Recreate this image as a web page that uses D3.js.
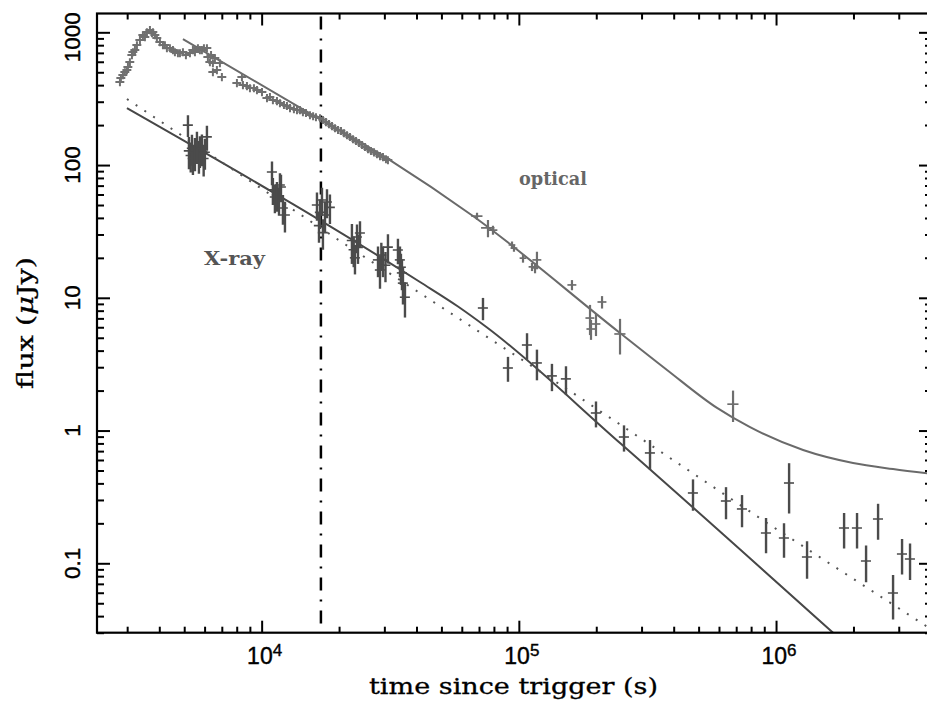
<!DOCTYPE html>
<html><head><meta charset="utf-8">
<script src="https://cdn.jsdelivr.net/npm/d3@7"></script>
<style>body{margin:0;background:#fff}svg{display:block}</style>
</head><body>
<svg id="c" width="927" height="706"></svg>
<script>
// ---------- data ----------
const xDomain = [2290, 4.04e6];
const yDomain = [0.03, 1386];
const xMajorTicks = [1e4, 1e5, 1e6];
const xTickExps = ["4", "5", "6"];
const yMajorTicks = [0.1, 1, 10, 100, 1000];
const yTickLabels = ["0.1", "1", "10", "100", "1000"];
const triggerLine = 17000;

// optical, dense early photometry [time s, flux uJy]
const optEarly = [[2812,422],[2837,452],[2888,477],[2940,502],[2994,520],[3021,548],[3074,597],[3131,675],[3159,710],[3216,736],[3274,802],[3363,876],[3454,954],[3517,922],[3580,1005],[3678,1041],[3745,988],[3778,1005],[3847,954],[3915,906],[4022,845],[4132,802],[4206,802],[4282,761],[4399,761],[4519,736],[4600,710],[4726,698],[4812,698],[4943,710],[5076,675],[5262,698],[5405,736],[5503,710],[5653,761],[5754,736],[5858,736],[5965,761],[6127,761],[6181,651],[6293,597],[6357,675],[6464,587],[6581,640],[6699,520],[6882,587],[6464,502],[7005,461],[8014,415],[8382,461],[8457,401],[8767,394],[9005,380],[9333,380],[9588,368],[10030,355],[10490,320],[10770,326],[11060,309],[11470,304],[11780,293],[12210,284],[12540,279],[12890,269],[13350,264],[13720,260],[14090,260],[14470,251],[14870,247],[15410,238],[15850,234],[16260,230],[16860,226],[17310,219],[17780,211],[18270,204],[18770,197],[19280,190],[19810,184],[20350,181],[20890,174],[21470,168],[22050,163],[22650,157],[23270,152],[23900,147],[24550,142],[25220,137],[25910,132],[26610,128],[27340,125],[28080,121],[28850,117],[29630,115],[30430,111],[30980,109]];
const optEarlyRelErrT = 0.04;
const optEarlyRelErrF = 0.07;
// optical, later photometry [time, flux, flux error, relative time error]
const optLate = [[68770,41.3,2.5,0.05],[75860,33.6,5,0.06],[79330,32.4,2.5,0.04],[94060,25.0,1.5,0.03],[95740,23.7,1.5,0.03],[103800,19.9,1.5,0.03],[112500,17.1,1.2,0.03],[115600,16.8,1.5,0.03],[117600,19.3,2.9,0.04],[160900,12.5,1.1,0.04],[189100,7.04,1.8,0.04],[190800,5.82,1.0,0.04],[199500,6.35,1.2,0.04],[210600,9.30,1.0,0.04],[247400,5.34,1.6,0.05],[680500,1.58,0.42,0.05]];
// X-ray [time, flux, flux error]
const xray = [[5170,200,37],[5216,128,35],[5300,118,30],[5358,134,35],[5405,112,28],[5503,125,35],[5603,140,38],[5704,119,33],[5754,130,35],[5858,134,36],[5950,112,30],[6018,125,33],[6127,163,35],
[10970,88.6,18],[11060,65,15],[11260,57.4,14],[11470,59.5,15],[11680,54.5,13],[11780,70.7,16],[11890,68.4,16],[12100,47.5,12],[12320,42,11],
[16410,50,12],[16710,35,9],[16860,44,11],[17160,54.5,13],[17310,31,8],[17630,42,11],[17950,52.7,13],[18430,48,12],
[22440,27,9],[22800,23,6],[23060,20,5],[23480,28.7,7],[23690,24,6],[24120,30.8,7],
[28340,19.3,5],[28850,16.2,4.5],[29200,21,5],[29630,19.3,5],[30300,17.6,4.5],[30980,24.1,6],
[33880,22.9,5],[34500,19.3,5],[34800,17,4.5],[35120,15.4,4],[35440,12.9,4],[36080,10.1,3],
[72540,8.38,1.6],[90740,2.96,0.63],[107600,4.41,1.0],[117600,3.23,0.84],[134500,2.58,0.6],[152500,2.45,0.6],[199500,1.356,0.3],[256400,0.894,0.2],[323600,0.678,0.17],[475500,0.3386,0.09],[639000,0.2946,0.08],[737500,0.2565,0.07],[914400,0.169,0.05],[1074000,0.155,0.045],[1124000,0.4026,0.165],[1320000,0.1116,0.035],[1839000,0.1845,0.055],[2065000,0.1845,0.055],[2239000,0.1041,0.032],[2493000,0.2157,0.065],[2851000,0.0597,0.022],[3090000,0.1175,0.035],[3319000,0.1077,0.033]];
const xrayRelErrT = 0.045;
// model curves [time, flux]
const optModel = [[4943,890],[14090,271],[31540,109],[66320,41.3],[247400,5.43],[376800,2.86],[589600,1.48],[792500,1.06],[1274000,0.714],[1993000,0.570],[2851000,0.513],[4043000,0.471]];
const xrayModel = [[2994,268],[41270,13.15],[58000,8.6],[75000,6.0],[247400,0.806],[1940000,0.023]];
const xrayModelDotted = [[2994,314.5],[20720,25.9],[162400,1.918],[922600,0.2012],[4043000,0.0315]];

// ---------- drawing ----------
const L = 97, R = 932, T = 13.5, B = 632.7;
const svg = d3.select('#c');
const x = d3.scaleLog().domain(xDomain).range([L, R]);
const y = d3.scaleLog().domain(yDomain).range([B, T]);

svg.append('defs').append('clipPath').attr('id','clip')
  .append('rect').attr('x',L).attr('y',T).attr('width',R-L).attr('height',B-T);
const plot = svg.append('g').attr('clip-path','url(#clip)');

const isPow = v => Math.abs(Math.log10(v) - Math.round(Math.log10(v))) < 1e-9;
const xMinor = x.ticks().filter(v => !isPow(v));
const yMinor = y.ticks().filter(v => !isPow(v));

function ticks(axisFn, scale, vals, size, tr){
  const g = svg.append('g').attr('transform', tr)
    .call(axisFn(scale).tickValues(vals).tickSize(size).tickSizeOuter(0).tickFormat(''));
  g.select('.domain').remove();
  g.selectAll('line').attr('stroke','#000').attr('stroke-width',2);
}
ticks(d3.axisBottom, x, xMajorTicks, -12, `translate(0,${B})`);
ticks(d3.axisBottom, x, xMinor, -6, `translate(0,${B})`);
ticks(d3.axisTop, x, xMajorTicks, -12, `translate(0,${T})`);
ticks(d3.axisTop, x, xMinor, -6, `translate(0,${T})`);
ticks(d3.axisLeft, y, yMajorTicks, -13, `translate(${L},0)`);
ticks(d3.axisLeft, y, yMinor, -7, `translate(${L},0)`);
ticks(d3.axisRight, y, yMajorTicks, -13, `translate(${R},0)`);
ticks(d3.axisRight, y, yMinor, -7, `translate(${R},0)`);

svg.append('rect').attr('x',L).attr('y',T).attr('width',R-L).attr('height',B-T)
  .attr('fill','none').attr('stroke','#000').attr('stroke-width',2.2);

// tick labels
xMajorTicks.forEach((v,i) => {
  const t = svg.append('text').attr('x', x(v)+3).attr('y', 664)
    .attr('text-anchor','middle').attr('font-family','Liberation Sans, Arial, sans-serif')
    .attr('font-size',23).attr('fill','#000').attr('stroke','#000').attr('stroke-width',0.4).text('10');
  t.append('tspan').attr('dy',-8).attr('font-size',17).text(xTickExps[i]);
});
yMajorTicks.forEach((v,i) => {
  svg.append('text').attr('transform',`translate(80,${y(v) + (i === yMajorTicks.length-1 ? 5 : 0)}) rotate(-90)`)
    .attr('text-anchor','middle').attr('font-family','Liberation Sans, Arial, sans-serif')
    .attr('font-size',22.5).attr('fill','#000').attr('stroke','#000').attr('stroke-width',0.4)
    .attr('textLength', yTickLabels[i].length === 1 ? null : null)
    .text(yTickLabels[i]);
});

// axis titles
svg.append('text').attr('x',369).attr('y',694).attr('font-family','DejaVu Serif, serif')
  .attr('font-size',23).attr('fill','#000').attr('stroke','#000').attr('stroke-width',0.3)
  .attr('textLength',289).attr('lengthAdjust','spacingAndGlyphs')
  .text('time since trigger (s)');
const yt = svg.append('text').attr('transform','translate(33,389) rotate(-90)')
  .attr('font-family','DejaVu Serif, serif').attr('font-size',23).attr('fill','#000')
  .attr('stroke','#000').attr('stroke-width',0.3)
  .attr('textLength',132).attr('lengthAdjust','spacingAndGlyphs');
yt.append('tspan').text('flux (');
yt.append('tspan').attr('font-style','italic').text('μ');
yt.append('tspan').text('Jy)');

// model lines
const line = d3.line().x(d => x(d[0])).y(d => y(d[1]));
plot.append('path').datum(optModel).attr('d', line.curve(d3.curveMonotoneX))
  .attr('fill','none').attr('stroke','#6a6a6a').attr('stroke-width',2);
plot.append('path').datum(xrayModel).attr('d', line.curve(d3.curveMonotoneX))
  .attr('fill','none').attr('stroke','#474747').attr('stroke-width',2);
plot.append('path').datum(xrayModelDotted).attr('d', line.curve(d3.curveLinear))
  .attr('fill','none').attr('stroke','#555').attr('stroke-width',2)
  .attr('stroke-dasharray','2,8.5');

// trigger (dash-dot) line
plot.append('line').attr('x1',x(triggerLine)).attr('x2',x(triggerLine))
  .attr('y1',T).attr('y2',B).attr('stroke','#000').attr('stroke-width',2.5)
  .attr('stroke-dasharray','13,9,2,9').attr('stroke-dashoffset',-3);

// data crosses
function cross(g, t, f, tlo, thi, flo, fhi, color, wv, wh){
  g.append('line').attr('x1',x(tlo)).attr('x2',x(thi)).attr('y1',y(f)).attr('y2',y(f))
    .attr('stroke',color).attr('stroke-width',wh);
  g.append('line').attr('x1',x(t)).attr('x2',x(t)).attr('y1',y(Math.max(flo,1e-3))).attr('y2',y(fhi))
    .attr('stroke',color).attr('stroke-width',wv);
}
const gx = plot.append('g');
xray.forEach(d => cross(gx, d[0], d[1], d[0]*(1-xrayRelErrT), d[0]*(1+xrayRelErrT), d[1]-d[2], d[1]+d[2], '#4b4b4b', 2.4, 1.6));
const go = plot.append('g');
optEarly.forEach(d => cross(go, d[0], d[1], d[0]*(1-optEarlyRelErrT), d[0]*(1+optEarlyRelErrT), d[1]*(1-optEarlyRelErrF), d[1]*(1+optEarlyRelErrF), '#707070', 2, 2));
optLate.forEach(d => cross(go, d[0], d[1], d[0]*(1-d[3]), d[0]*(1+d[3]), d[1]-d[2], d[1]+d[2], '#6e6e6e', 2.2, 1.7));

// series labels
svg.append('text').attr('x',519).attr('y',185).attr('font-family','DejaVu Serif, serif')
  .attr('font-weight','bold').attr('font-size',19).attr('fill','#666')
  .attr('textLength',68).attr('lengthAdjust','spacingAndGlyphs').text('optical');
svg.append('text').attr('x',204).attr('y',265).attr('font-family','DejaVu Serif, serif')
  .attr('font-weight','bold').attr('font-size',18).attr('fill','#555')
  .attr('textLength',61).attr('lengthAdjust','spacingAndGlyphs').text('X-ray');
</script>
</body></html>
